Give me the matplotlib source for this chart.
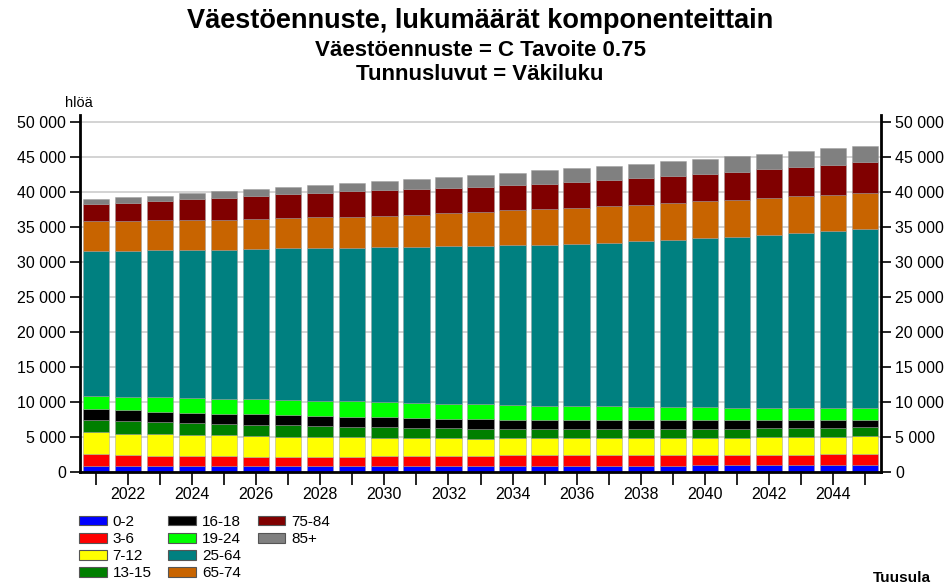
import matplotlib
matplotlib.use("Agg")
import matplotlib.pyplot as plt
import numpy as np
from matplotlib.ticker import FuncFormatter, MultipleLocator
from matplotlib.patches import Patch

plt.rcParams['font.family'] = ['Liberation Sans', 'DejaVu Sans']

years = list(range(2021, 2046))
groups = ["0-2", "3-6", "7-12", "13-15", "16-18", "19-24", "25-64", "65-74", "75-84", "85+"]
colors = ["#0000FF", "#FF0000", "#FFFF00", "#007F00", "#000000", "#00FF00",
          "#008080", "#C86400", "#800000", "#808080"]

v_0_2 = [820, 820, 820, 820, 820, 830, 830, 840, 850, 860, 870, 880, 890,
         900, 900, 910, 910, 920, 920, 930, 930, 940, 940, 950, 950]
v_3_6 = [1700, 1610, 1510, 1470, 1420, 1360, 1360, 1350, 1340, 1380, 1370, 1410, 1400,
         1480, 1480, 1520, 1520, 1510, 1510, 1500, 1500, 1540, 1540, 1570, 1570]
v_7_12 = [3190, 3050, 3050, 3000, 3000, 2950, 2860, 2810, 2760, 2620, 2570, 2520, 2490,
          2430, 2430, 2380, 2380, 2380, 2430, 2430, 2470, 2470, 2520, 2530, 2620]
v_13_15 = [1670, 1760, 1720, 1710, 1620, 1620, 1620, 1570, 1530, 1520, 1520, 1430, 1410,
           1290, 1290, 1330, 1290, 1290, 1280, 1280, 1240, 1290, 1290, 1280, 1290]
v_16_18 = [1570, 1570, 1520, 1480, 1470, 1480, 1470, 1430, 1420, 1430, 1380, 1380, 1330,
           1330, 1330, 1290, 1330, 1330, 1290, 1290, 1290, 1190, 1140, 1150, 1050]
v_19_24 = [1910, 1950, 2050, 2090, 2150, 2140, 2150, 2190, 2200, 2190, 2190, 2140, 2150,
           2140, 2050, 2050, 1950, 1900, 1860, 1810, 1760, 1760, 1760, 1660, 1660]
v_25_64 = [20660, 20860, 21000, 21190, 21280, 21480, 21660, 21760, 21950, 22100, 22240, 22480, 22660,
           22810, 23000, 23140, 23380, 23620, 23900, 24190, 24430, 24670, 24910, 25240, 25530]
v_65_74 = [4340, 4280, 4280, 4240, 4290, 4280, 4290, 4430, 4430, 4520, 4620, 4760, 4840,
           5000, 5090, 5140, 5190, 5240, 5240, 5240, 5280, 5280, 5280, 5240, 5230]
v_75_84 = [2380, 2580, 2760, 2950, 3140, 3290, 3430, 3520, 3620, 3670, 3670, 3620, 3590,
           3570, 3620, 3670, 3720, 3760, 3810, 3900, 4000, 4100, 4190, 4280, 4390]
v_85 = [710, 760, 770, 860, 910, 950, 1000, 1050, 1190, 1230, 1430, 1520, 1670,
        1810, 1910, 1950, 2040, 2100, 2140, 2190, 2240, 2240, 2290, 2340, 2330]

series = [v_0_2, v_3_6, v_7_12, v_13_15, v_16_18, v_19_24, v_25_64, v_65_74, v_75_84, v_85]

fig = plt.figure(figsize=(9.48, 5.84), dpi=100)
ax = fig.add_axes([80/948, 1-472/584, 801/948, 357/584])

bottom = np.zeros(len(years))
for vals, col in zip(series, colors):
    ax.bar(years, vals, bottom=bottom, width=0.82, color=col,
           edgecolor=(0.6, 0.6, 0.6, 0.6), linewidth=0.5, zorder=2)
    bottom += np.array(vals)

ax.set_xlim(2020.5, 2045.5)
ax.set_ylim(0, 51000)
ax.yaxis.set_major_locator(MultipleLocator(5000))
fmt = FuncFormatter(lambda v, p: f"{v:,.0f}".replace(",", " "))
ax.yaxis.set_major_formatter(fmt)
ax.grid(axis='y', color='#cccccc', linewidth=1.2, zorder=0)
ax.set_axisbelow(True)

ax.set_xticks(years)
ax.set_xticklabels([str(y) if y % 2 == 0 else "" for y in years])
ax.tick_params(axis='x', length=9, width=1.2, labelsize=11.5, pad=2)
ax.tick_params(axis='y', length=7, width=1.2, labelsize=11.5, pad=3,
               left=True, right=True, labelleft=True, labelright=True)

for s in ['left', 'right', 'bottom']:
    ax.spines[s].set_linewidth(2)
ax.spines['top'].set_visible(False)

fig.text(480/948, 1-21/584, "Väestöennuste, lukumäärät komponenteittain",
         ha='center', va='center', fontsize=19.5, fontweight='bold')
fig.text(480/948, 1-51/584, "Väestöennuste = C Tavoite 0.75",
         ha='center', va='center', fontsize=16, fontweight='bold')
fig.text(480/948, 1-74/584, "Tunnusluvut = Väkiluku",
         ha='center', va='center', fontsize=16, fontweight='bold')
fig.text(65/948, 1-103/584, "hlöä", ha='left', va='center', fontsize=10.5)
fig.text(931/948, 1-578/584, "Tuusula", ha='right', va='center',
         fontsize=11, fontweight='bold')

handles = [Patch(facecolor=c, edgecolor='#555555', linewidth=0.8, label=g)
           for c, g in zip(colors, groups)]
blank = [Patch(facecolor='none', edgecolor='none', label='') for _ in range(2)]
fig.legend(handles=handles + blank, ncol=3, loc='upper left',
           bbox_to_anchor=(79/948, 1-515/584), frameon=False, fontsize=11,
           handlelength=1.8, handleheight=0.6, handletextpad=0.4,
           labelspacing=0.2, columnspacing=1.1, borderpad=0, borderaxespad=0)

fig.savefig("out.png", dpi=100)
